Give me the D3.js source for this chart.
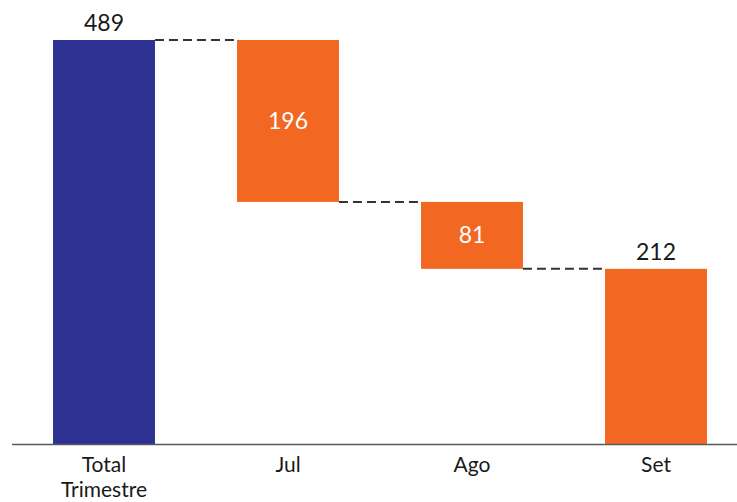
<!DOCTYPE html>
<html><head><meta charset="utf-8">
<script src="https://cdn.jsdelivr.net/npm/d3@7"></script>
<style>body{margin:0;background:#fff}svg{display:block}text{font-family:Lato,"Open Sans",sans-serif}</style>
</head><body>
<svg id="c" width="737" height="502"></svg>
<script>
const categories = ["Total Trimestre", "Jul", "Ago", "Set"];
const values = [489, -196, -81, -212];
const kinds = ["total", "delta", "delta", "delta"];
const colors = {total: "#2E3192", delta: "#F26722"};

// build waterfall steps
let run = 0;
const steps = categories.map((c, i) => {
  let start, end;
  if (kinds[i] === "total") { start = 0; end = values[i]; run = values[i]; }
  else { start = run; end = run + values[i]; run = end; }
  return {cat: c, value: Math.abs(values[i]), start, end, kind: kinds[i], i};
});

const svg = d3.select("#c");
const x = d3.scaleBand().domain(categories).range([12, 748]).paddingInner(0.446).paddingOuter(0.223);
const y = d3.scaleLinear().domain([0, 489]).range([444, 40]);

// connectors
for (let i = 0; i < steps.length - 1; i++) {
  const lvl = steps[i].end;
  svg.append("line")
    .attr("x1", x(steps[i].cat) + x.bandwidth()).attr("x2", x(steps[i+1].cat))
    .attr("y1", y(lvl)).attr("y2", y(lvl))
    .attr("stroke", "#333333").attr("stroke-width", 2).attr("stroke-dasharray", "9,5");
}

svg.selectAll("rect.bar").data(steps).join("rect").attr("class", "bar")
  .attr("x", d => x(d.cat)).attr("width", x.bandwidth())
  .attr("y", d => y(Math.max(d.start, d.end)))
  .attr("height", d => Math.abs(y(d.start) - y(d.end)))
  .attr("fill", d => colors[d.kind]);

// axis line
svg.append("line").attr("x1", 12).attr("x2", 737).attr("y1", y(0) + 0.5).attr("y2", y(0) + 0.5)
  .attr("stroke", "#595959").attr("stroke-width", 1.5);

// value labels
steps.forEach((d, i) => {
  const cx = x(d.cat) + x.bandwidth() / 2;
  const top = Math.max(d.start, d.end), bot = Math.min(d.start, d.end);
  const outside = (d.kind === "total" || bot === 0);
  svg.append("text")
    .attr("x", cx)
    .attr("y", outside ? y(top) - 9 : (y(top) + y(bot)) / 2 + 8)
    .attr("text-anchor", "middle").attr("font-size", 23)
    .attr("fill", outside ? "#1a1a1a" : "#ffffff")
    .text(d.value);
});

// category labels
categories.forEach(c => {
  const cx = x(c) + x.bandwidth() / 2;
  const words = c === "Total Trimestre" ? ["Total", "Trimestre"] : [c];
  words.forEach((w, k) => {
    svg.append("text").attr("x", cx).attr("y", 472 + k * 25)
      .attr("text-anchor", "middle").attr("font-size", 21).attr("fill", "#1a1a1a").text(w);
  });
});
</script>
</body></html>
